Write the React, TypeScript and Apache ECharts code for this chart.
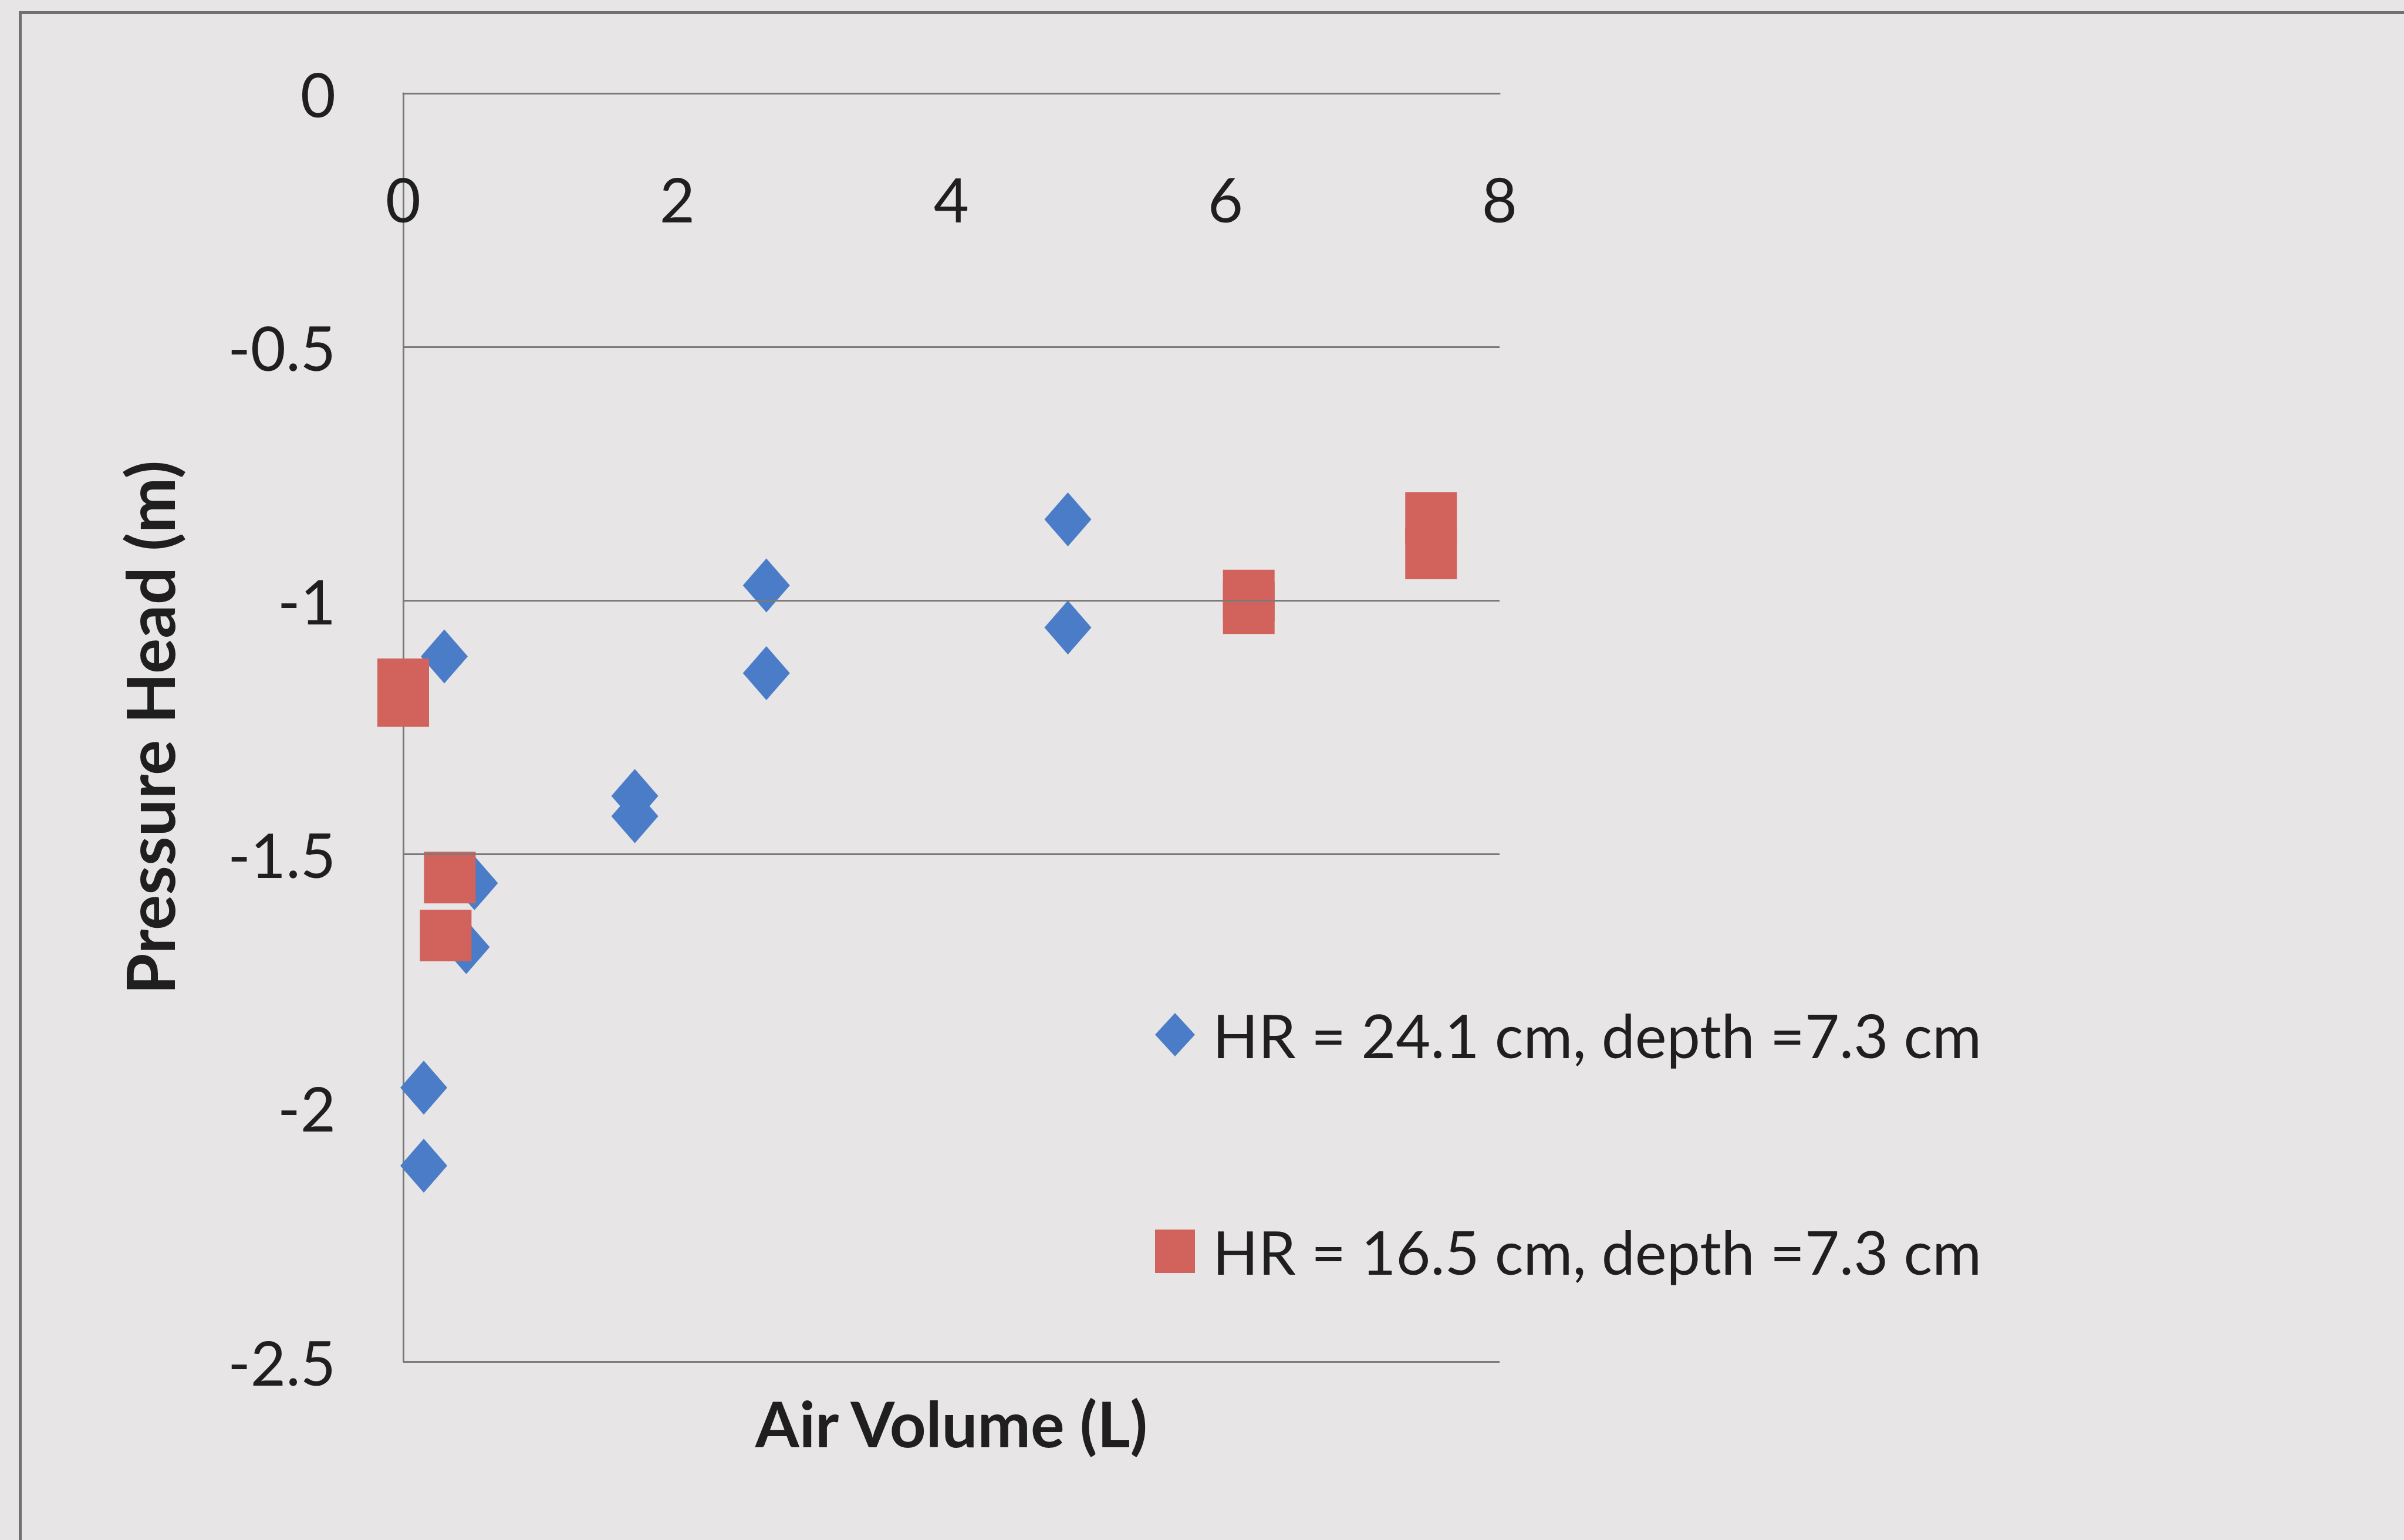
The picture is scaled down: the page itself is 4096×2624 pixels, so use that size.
import React, { useEffect, useRef } from "react";
import * as echarts from "echarts";

// Data
const seriesNames = ["HR = 24.1 cm, depth =7.3 cm", "HR = 16.5 cm, depth =7.3 cm"];
const blueX = [0.30, 0.52, 0.46, 0.15, 0.15, 1.69, 1.69, 2.65, 2.65, 4.85, 4.85];
const blueY = [-1.11, -1.557, -1.683, -1.96, -2.114, -1.385, -1.425, -0.97, -1.143, -0.84, -1.053];
const redX = [0, 0, 0.34, 0.31, 6.17, 6.17, 7.5, 7.5];
const redY = [-1.165, -1.198, -1.546, -1.66, -0.99, -1.015, -0.837, -0.907];
const gridLineValues = [-0.5, -1, -1.5, -2.5];

const FONT = "Lato";
const TEXT = "#1f1f1f";
const LINE = "#7a7a7a";

export default function App() {
  const ref = useRef<HTMLDivElement>(null);
  useEffect(() => {
    document.body.style.margin = "0";
    const chart = echarts.init(ref.current!, null, { renderer: "svg" });
    const blue = blueX.map((x, i) => [x, blueY[i]]);
    const red = redX.map((x, i) => [x, redY[i]]);
    chart.setOption({
      animation: false,
      backgroundColor: "#e7e5e6",
      textStyle: { fontFamily: FONT, color: TEXT },
      grid: {
        left: 687,
        right: 4096 - 2555,
        top: 159,
        bottom: 2624 - 2320,
        containLabel: false,
        outerBoundsMode: "none",
      },
      xAxis: [
        {
          type: "value",
          min: 0,
          max: 8,
          interval: 2,
          position: "top",
          axisLine: { onZero: false, lineStyle: { color: LINE, width: 3 } },
          axisTick: { show: false },
          splitLine: { show: false },
          axisLabel: { inside: true, fontSize: 104, color: TEXT, fontFamily: FONT, margin: 127 },
        },
        {
          type: "value",
          min: 0,
          max: 8,
          interval: 2,
          position: "bottom",
          axisLine: { show: false, onZero: false },
          axisTick: { show: false },
          axisLabel: { show: false },
          splitLine: { show: false },
          name: "Air Volume (L)",
          nameLocation: "middle",
          nameGap: 50,
          nameTextStyle: { fontSize: 108, fontWeight: "bold", color: TEXT, fontFamily: FONT },
        },
      ],
      yAxis: {
        type: "value",
        min: -2.5,
        max: 0,
        interval: 0.5,
        axisLine: { onZero: false, lineStyle: { color: LINE, width: 3 } },
        axisTick: { show: false },
        splitLine: { show: false },
        axisLabel: { fontSize: 104, color: TEXT, fontFamily: FONT, margin: 115 },
        name: "Pressure Head (m)",
        nameLocation: "middle",
        nameGap: 377,
        nameTextStyle: { fontSize: 113, fontWeight: "bold", color: TEXT, fontFamily: FONT },
      },
      legend: {
        orient: "vertical",
        left: 1968,
        top: 1712,
        padding: 0,
        itemGap: 267,
        itemWidth: 68,
        itemHeight: 74,
        symbolKeepAspect: false,
        textStyle: { fontSize: 102, color: TEXT, fontFamily: FONT, padding: [0, 0, 0, 25] },
        data: [
          { name: seriesNames[0], icon: "diamond" },
          { name: seriesNames[1], icon: "rect" },
        ],
      },
      graphic: [
        {
          type: "rect",
          left: 32,
          top: 19,
          shape: { width: 5000, height: 5000 },
          style: { fill: "none", stroke: "#707070", lineWidth: 5 },
          silent: true,
        },
      ],
      series: [
        {
          name: "grid",
          type: "scatter",
          data: [],
          z: 1,
          silent: true,
          markLine: {
            silent: true,
            symbol: "none",
            label: { show: false },
            lineStyle: { color: LINE, width: 3, type: "solid" },
            data: gridLineValues.map((v) => ({ yAxis: v })),
          },
        },
        {
          name: seriesNames[0],
          type: "scatter",
          symbol: "diamond",
          symbolSize: [80, 92],
          itemStyle: { color: "#4a7cc8", opacity: 1 },
          data: blue,
          z: 3,
        },
        {
          name: seriesNames[1],
          type: "scatter",
          symbol: "rect",
          symbolSize: 88,
          itemStyle: { color: "#d2635c", opacity: 1 },
          data: red,
          z: 4,
        },
      ],
    });
    return () => chart.dispose();
  }, []);
  return <div ref={ref} style={{ width: 4096, height: 2624 }} />;
}
